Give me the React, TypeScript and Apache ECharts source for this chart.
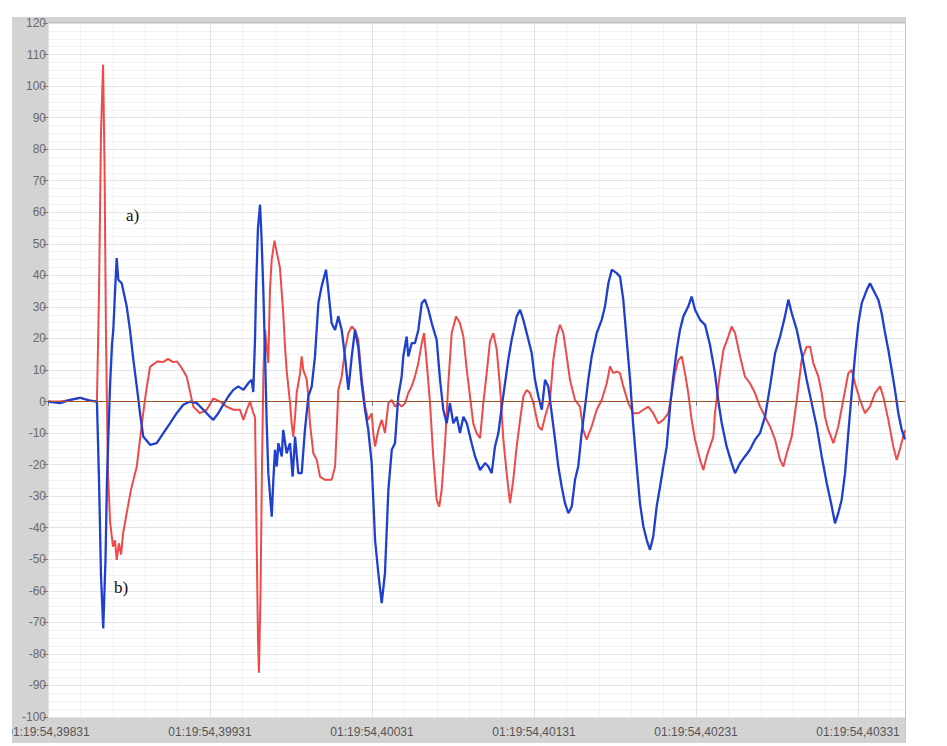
import React, { useEffect, useRef } from "react";
import * as echarts from "echarts";

// time axis in ms after 01:19:54,39831
const xTickLabels = [
  "01:19:54,39831",
  "01:19:54,39931",
  "01:19:54,40031",
  "01:19:54,40131",
  "01:19:54,40231",
  "01:19:54,40331",
];
const yMin = -100;
const yMax = 120;

const redTime = [
  0, 0.074, 0.136, 0.198, 0.259, 0.302, 0.315, 0.327, 0.34, 0.349, 0.358, 0.37, 0.383, 0.401, 0.414, 0.424, 0.438,
  0.451, 0.463, 0.486, 0.512, 0.548, 0.568, 0.588, 0.605, 0.63, 0.673, 0.71, 0.741, 0.772, 0.796, 0.821, 0.856, 0.897,
  0.938, 0.98, 1.02, 1.062, 1.103, 1.144, 1.185, 1.206, 1.227, 1.247, 1.267, 1.278, 1.287, 1.296, 1.302, 1.312, 1.321,
  1.33, 1.34, 1.36, 1.37, 1.381, 1.398, 1.432, 1.452, 1.463, 1.473, 1.494, 1.504, 1.514, 1.525, 1.535, 1.556, 1.566,
  1.576, 1.597, 1.607, 1.617, 1.638, 1.659, 1.679, 1.71, 1.751, 1.772, 1.782, 1.792, 1.813, 1.833, 1.854, 1.875, 1.895,
  1.915, 1.936, 1.957, 1.977, 1.998, 2.008, 2.019, 2.039, 2.06, 2.08, 2.101, 2.122, 2.142, 2.162, 2.183, 2.204, 2.224,
  2.245, 2.265, 2.286, 2.307, 2.321, 2.338, 2.358, 2.378, 2.399, 2.415, 2.43, 2.451, 2.471, 2.492, 2.519, 2.543, 2.564,
  2.585, 2.605, 2.625, 2.646, 2.667, 2.687, 2.708, 2.728, 2.749, 2.77, 2.79, 2.811, 2.831, 2.852, 2.872, 2.893, 2.914,
  2.934, 2.955, 2.975, 2.996, 3.027, 3.048, 3.068, 3.099, 3.119, 3.14, 3.16, 3.181, 3.202, 3.222, 3.253, 3.284, 3.304,
  3.325, 3.356, 3.387, 3.418, 3.449, 3.469, 3.489, 3.51, 3.531, 3.551, 3.582, 3.613, 3.644, 3.675, 3.705, 3.736, 3.767,
  3.798, 3.829, 3.85, 3.87, 3.891, 3.912, 3.932, 3.952, 3.973, 3.994, 4.025, 4.045, 4.066, 4.086, 4.107, 4.117, 4.148,
  4.169, 4.199, 4.22, 4.241, 4.272, 4.302, 4.333, 4.364, 4.395, 4.426, 4.457, 4.488, 4.519, 4.539, 4.56, 4.591, 4.622,
  4.652, 4.683, 4.704, 4.724, 4.755, 4.776, 4.796, 4.817, 4.848, 4.878, 4.909, 4.94, 4.961, 4.981, 5.012, 5.043, 5.074,
  5.105, 5.136, 5.156, 5.187, 5.218, 5.239, 5.259, 5.29,
];
const redValue = [
  0, 0, 0.5, 1.2, 0.3, 0, 35, 85, 106.8, 75, 20, -22, -38, -46, -44, -50.2, -45,
  -48.5, -42, -35.3, -28, -20.6, -12, -3.6, 3, 11, 12.7, 12.5, 13.5, 12.5, 12.7, 11, 7.9, -1.6,
  -3.7, -2.6, 1, 0, -1.6, -2.6, -2.6, -5.8, -2.6, 0, -3.6, -5, -40, -75, -86, -60, -20,
  10, 22.7, 12.2, 35.4, 45, 51, 42.3, 28, 17.4, 10, -0.5, -6.9, -11.1, -4.8, 2.7, 9, 14.3,
  10, 6.9, 1.6, -6.9, -16.4, -18.5, -23.8, -24.8, -24.8, -20.6, -9, 3.7, 7.9, 16.4, 21.7, 23.8, 22.7,
  19.6, 7.9, -1.6, -5.8, -3.7, -10, -14.3, -9, -5.8, -10, -0.5, 0.5, -1.6, -0.5, -1.6, -0.5, 2.7,
  4.8, 7.9, 12.2, 18.5, 21.7, 12.2, -0.5, -17.4, -31.2, -33.3, -28, -13.2, 5.8, 21.7, 27, 24.8, 20.6,
  10, 1.6, -6.9, -10, -11.6, -0.5, 9, 19, 21.7, 16.4, 4.8, -12.1, -22.7, -32.2, -24.8, -14.3, -5.8,
  1.6, 3.7, 2.7, -0.5, -7.9, -9, -4.8, 0.5, 13.2, 20.6, 24.3, 21.7, 14.3, 6.9, 0.5, -1.6, -9,
  -12.1, -7.9, -2.6, 0.5, 5.8, 11.1, 9, 9.5, 9, 4.8, -0.5, -3.7, -3.7, -2.6, -1.6, -3.7, -6.9,
  -5.8, -3.7, 2.7, 9, 13.2, 14.3, 9, 2.7, -5.8, -12.1, -18.5, -21.7, -17.4, -14.3, -11.1, -3.7, 9,
  16.4, 20.6, 23.8, 21.7, 14.3, 7.9, 5.8, 2.7, -1.6, -4.8, -7.9, -12.1, -18.5, -20.6, -16.4, -11.1, 0.5,
  13.2, 17.4, 17.4, 12.2, 7.9, 2.7, -4.8, -9, -13.2, -7.9, 0.5, 9, 10, 5.8, 0.5, -3.7, -1.6,
  2.7, 4.8, 1.6, -5.8, -14.3, -18.5, -15, -9,
];

const blueTime = [
  0, 0.074, 0.136, 0.198, 0.259, 0.302, 0.315, 0.327, 0.341, 0.355, 0.364, 0.372, 0.383, 0.395, 0.403, 0.414, 0.424,
  0.434, 0.455, 0.486, 0.506, 0.527, 0.548, 0.568, 0.588, 0.63, 0.671, 0.712, 0.753, 0.794, 0.835, 0.877, 0.918, 0.959,
  1.0, 1.02, 1.051, 1.082, 1.113, 1.144, 1.175, 1.206, 1.236, 1.257, 1.267, 1.278, 1.284, 1.296, 1.309, 1.318, 1.329,
  1.34, 1.35, 1.36, 1.381, 1.391, 1.401, 1.412, 1.422, 1.443, 1.452, 1.473, 1.494, 1.51, 1.525, 1.545, 1.566, 1.586,
  1.607, 1.628, 1.648, 1.669, 1.689, 1.716, 1.73, 1.751, 1.772, 1.792, 1.813, 1.833, 1.854, 1.875, 1.895, 1.915, 1.936,
  1.957, 1.977, 1.998, 2.019, 2.039, 2.06, 2.08, 2.101, 2.122, 2.142, 2.162, 2.183, 2.193, 2.214, 2.224, 2.245, 2.265,
  2.286, 2.307, 2.327, 2.348, 2.369, 2.399, 2.42, 2.44, 2.461, 2.481, 2.502, 2.523, 2.543, 2.564, 2.585, 2.615, 2.636,
  2.667, 2.698, 2.718, 2.739, 2.759, 2.78, 2.801, 2.821, 2.841, 2.862, 2.893, 2.914, 2.934, 2.955, 2.986, 3.006, 3.027,
  3.048, 3.068, 3.088, 3.109, 3.13, 3.15, 3.171, 3.191, 3.212, 3.233, 3.253, 3.273, 3.294, 3.315, 3.335, 3.356, 3.387,
  3.418, 3.438, 3.459, 3.48, 3.51, 3.531, 3.551, 3.572, 3.593, 3.613, 3.634, 3.654, 3.675, 3.696, 3.716, 3.736, 3.757,
  3.778, 3.798, 3.819, 3.84, 3.86, 3.881, 3.901, 3.922, 3.952, 3.973, 3.994, 4.025, 4.056, 4.086, 4.117, 4.138, 4.159,
  4.189, 4.22, 4.241, 4.272, 4.302, 4.333, 4.364, 4.395, 4.426, 4.457, 4.488, 4.519, 4.549, 4.57, 4.591, 4.622, 4.652,
  4.683, 4.714, 4.745, 4.776, 4.807, 4.838, 4.858, 4.878, 4.899, 4.92, 4.94, 4.961, 4.981, 5.002, 5.023, 5.054, 5.074,
  5.094, 5.125, 5.146, 5.167, 5.187, 5.208, 5.228, 5.249, 5.27, 5.29,
];
const blueValue = [
  0, -0.5, 0.5, 1.2, 0.3, 0, -25, -55, -71.9, -50, -25, -12, 5, 18, 22.7, 35, 45.5,
  38.6, 37.5, 30.1, 22.7, 13.2, 4.8, -3.7, -11.1, -13.7, -13.2, -10, -6.9, -3.7, -1, 0, -0.5, -2.6,
  -4.8, -5.8, -3.7, -1, 1.6, 3.7, 4.8, 3.7, 5.8, 6.9, 3, 20, 35, 55, 62.4, 52, 35.4,
  14.3, -6.9, -22.7, -36.5, -24.8, -15.3, -20.6, -13.2, -17.4, -9, -16.4, -13.2, -23.8, -11.1, -22.7, -22.7, -9,
  1.6, 4.8, 14.3, 31.2, 36.5, 41.8, 35.4, 24.8, 22.7, 27, 22.7, 14.3, 3.7, 14.3, 22.7, 17.4, 5.8,
  -2.6, -9, -19.5, -43.9, -54.4, -63.9, -54.4, -28, -15.3, -13.2, 1.6, 7.9, 14.3, 20.6, 14.3, 18.5, 18.5,
  22.7, 31.2, 32.3, 29.1, 24.8, 19.6, 6.9, -2.6, -6.9, -0.5, -6.9, -4.8, -10, -4.8, -6.9, -13.2, -17.4,
  -21.7, -19.5, -20.6, -22.7, -14.3, -10, -1.6, 5.8, 13.2, 19.6, 27, 29.1, 25.9, 21.7, 15.3, 6.9, 1.6,
  -2.6, 6.9, 4.8, -3.7, -12.1, -20.6, -27, -32.2, -35.4, -33.3, -24.8, -20.6, -10, -1.6, 6.9, 14.3, 21.7,
  25.9, 30.1, 37.5, 41.8, 40.7, 39.6, 32.3, 19.6, 6.9, -7.9, -20.6, -32.2, -39.6, -43.9, -47, -42.8, -33.3,
  -27, -20.6, -14.3, -1.6, 7.9, 16.4, 22.7, 27, 30.1, 33.3, 29.1, 25.9, 24.3, 18, 9, 0, -6.9,
  -14.3, -19.5, -22.7, -19.5, -17.4, -15.3, -12.1, -10, -4.8, 4.8, 15.3, 20.6, 27, 32.3, 28, 22.7, 15.3,
  6.9, -0.5, -7.9, -17.4, -25.9, -33.3, -38.6, -35.4, -31.2, -22.7, -10, 2.7, 14.3, 24.8, 31.2, 35.4, 37.5,
  35.4, 32.3, 28, 21.7, 16.4, 10, 3.7, -3.7, -9, -12,
];

const annotations = [
  { text: "a)", x: 126, y: 215 },
  { text: "b)", x: 114, y: 587 },
];

const zip = (t: number[], v: number[]) => t.map((x, i) => [x, v[i]]);

export default function App() {
  const ref = useRef<HTMLDivElement>(null);
  useEffect(() => {
    document.body.style.margin = "0";
    const chart = echarts.init(ref.current!, null, { renderer: "svg" });
    const panel = "#d3d3d3";
    chart.setOption({
      animation: false,
      backgroundColor: "#ffffff",
      grid: {
        left: 48,
        top: 23,
        right: 42,
        bottom: 29,
        show: true,
        backgroundColor: "#ffffff",
        borderWidth: 0,
      },
      xAxis: {
        type: "value",
        min: 0,
        max: 5.29,
        interval: 1,
        axisLine: { show: false },
        axisTick: { show: true, length: 4, lineStyle: { color: "#777" } },
        axisLabel: {
          color: "#555555",
          fontSize: 12,
          fontFamily: "Liberation Sans",
          margin: 9,
          showMaxLabel: false,
          formatter: (v: number) => {
            const r = Math.round(v);
            if (Math.abs(v - r) > 1e-6) return "";
            return xTickLabels[r] ?? "";
          },
        },
        splitLine: { show: true, lineStyle: { color: "#e2e2e2", width: 1 } },
        minorTick: { show: false, splitNumber: 5 },
        minorSplitLine: { show: true, lineStyle: { color: "#f3f3f3", width: 1 } },
      },
      yAxis: {
        type: "value",
        min: yMin,
        max: yMax,
        interval: 10,
        axisLine: { show: false },
        axisTick: { show: true, length: 5, lineStyle: { color: "#808080" } },
        axisLabel: {
          color: "#6a6a6a",
          fontSize: 12,
          fontFamily: "Liberation Sans",
          margin: 2,
        },
        splitLine: { show: true, lineStyle: { color: "#e2e2e2", width: 1 } },
        minorTick: { show: false, splitNumber: 4 },
        minorSplitLine: { show: true, lineStyle: { color: "#f3f3f3", width: 1 } },
      },
      series: [
        {
          name: "a",
          type: "line",
          data: zip(redTime, redValue),
          showSymbol: false,
          lineStyle: { color: "#ee4a4a", width: 2 },
          itemStyle: { color: "#ee4a4a" },
        },
        {
          name: "b",
          type: "line",
          data: zip(blueTime, blueValue),
          showSymbol: false,
          lineStyle: { color: "#1e3fd0", width: 2.3 },
          itemStyle: { color: "#1e3fd0" },
          markLine: {
            silent: true,
            symbol: "none",
            label: { show: false },
            lineStyle: { color: "#a0522d", width: 1.2, type: "solid" },
            data: [{ yAxis: 0 }],
          },
        },
      ],
      graphic: {
        elements: [
          { type: "rect", z: -1, shape: { x: 12, y: 17, width: 894, height: 6 }, style: { fill: panel } },
          { type: "rect", z: -1, shape: { x: 12, y: 17, width: 36, height: 726 }, style: { fill: panel } },
          { type: "rect", z: -1, shape: { x: 12, y: 717, width: 894, height: 26 }, style: { fill: panel } },
          { type: "line", z: 1, shape: { x1: 48, y1: 22.5, x2: 906, y2: 22.5 }, style: { stroke: "#bcbcbc", lineWidth: 1 } },
          { type: "line", z: 1, shape: { x1: 905.5, y1: 17, x2: 905.5, y2: 743 }, style: { stroke: "#c6c6c6", lineWidth: 1 } },
          { type: "rect", z: 100, shape: { x: 0, y: 700, width: 12, height: 46 }, style: { fill: "#ffffff" } },
          ...annotations.map((a) => ({
            type: "text",
            z: 50,
            x: a.x,
            y: a.y,
            style: {
              text: a.text,
              fill: "#111111",
              font: "17px 'Liberation Serif'",
              textVerticalAlign: "middle",
            },
          })),
        ],
      },
    });
    return () => chart.dispose();
  }, []);
  return (
    <div
      ref={ref}
      style={{ position: "absolute", left: 0, top: 0, width: 947, height: 746 }}
    />
  );
}
